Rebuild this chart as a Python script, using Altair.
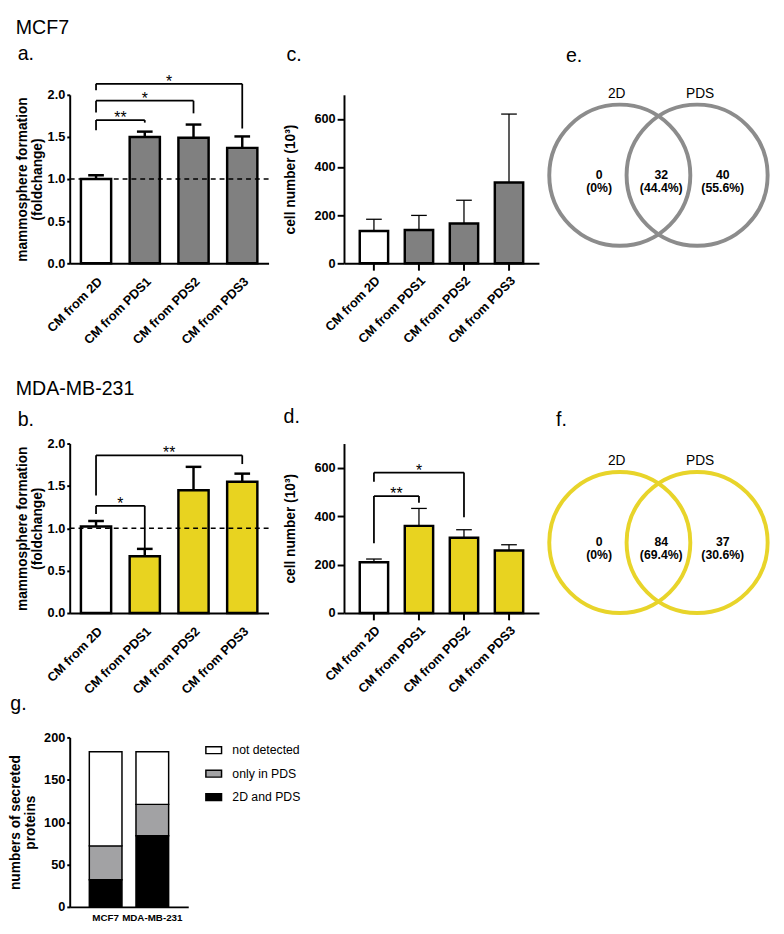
import altair as alt
import pandas as pd

FONT = "Liberation Sans"

categories = ["CM from 2D", "CM from PDS1", "CM from PDS2", "CM from PDS3"]

# panel a (MCF7 mammosphere formation)
mcf7_mammo = [1.00, 1.50, 1.49, 1.37]
mcf7_mammo_err = [0.046, 0.063, 0.157, 0.136]
# panel c (MCF7 cell number)
mcf7_cells = [134, 138, 165, 336]
mcf7_cells_err = [49, 61, 97, 284]
# panel b (MDA-MB-231 mammosphere formation)
mda_mammo = [1.02, 0.67, 1.45, 1.55]
mda_mammo_err = [0.066, 0.087, 0.275, 0.095]
# panel d (MDA-MB-231 cell number)
mda_cells = [210, 360, 311, 258]
mda_cells_err = [13, 72, 33, 24]

# significance brackets: (from, to, bracket level, left leg end, right leg end, label)
a_brackets = [
    ("CM from 2D", "CM from PDS1", 1.70, 1.58, 1.67, "**"),
    ("CM from 2D", "CM from PDS2", 1.93, 1.79, 1.78, "*"),
    ("CM from 2D", "CM from PDS3", 2.13, 2.055, 1.60, "*"),
]
b_brackets = [
    ("CM from 2D", "CM from PDS1", 1.265, 1.17, 0.726, "*"),
    ("CM from 2D", "CM from PDS3", 1.861, 1.388, 1.758, "**"),
]
c_brackets = []
d_brackets = [
    ("CM from 2D", "CM from PDS1", 483, 288, 455, "**"),
    ("CM from 2D", "CM from PDS2", 580, 542, 396, "*"),
]

# Venn diagrams
venn_sets = ["2D", "PDS"]
mcf7_venn_counts = ["0", "32", "40"]
mcf7_venn_pct = ["(0%)", "(44.4%)", "(55.6%)"]
mda_venn_counts = ["0", "84", "37"]
mda_venn_pct = ["(0%)", "(69.4%)", "(30.6%)"]
venn_centers = [-0.547, 0.547]
venn_head_x = [-0.59, 0.59]
venn_head_y = 1.15
venn_text_x = [-0.84, 0.04, 0.91]

# panel g
cell_lines = ["MCF7", "MDA-MB-231"]
groups = ["not detected", "only in PDS", "2D and PDS"]
both_counts = [32, 84]
pds_only_counts = [40, 37]
not_detected_counts = [111, 62]

WHITE = "#ffffff"
GRAY_BAR = "#808080"
YELLOW = "#e8d320"
VENN_GRAY = "#8c8c8c"
VENN_YELLOW = "#e8d42a"
G_GRAY = "#a2a2a4"

PX = 72  # pixels per Venn radius
H_TOP = 172
H_MID = 173
PI_A, PO_A = 0.38, 0.23
PI_C, PO_C = 0.37, 0.35


def letter_title(txt, offset, dx=0):
    return alt.Title(txt, anchor="start", frame="bounds", fontSize=20, fontWeight="normal",
                     font=FONT, color="black", offset=offset, dx=dx)


def bar_panel(values, errs, pds_color, ydomain, yvalues, yformat, ytitle, brackets,
              letter, title_offset, title_dx, width, height, pi, po, ytick, xticks, err_w,
              title_padding, label_pad, dashed):
    fills = [WHITE] + [pds_color] * 3
    df = pd.DataFrame({"cat": categories, "val": values,
                       "up": [v + e for v, e in zip(values, errs)], "fill": fills})
    xscale = alt.Scale(domain=categories, paddingInner=pi, paddingOuter=po)
    yscale = alt.Scale(domain=ydomain, nice=False)
    xaxis = alt.Axis(title=None, labelAngle=-45, ticks=xticks, tickSize=7,
                     labelPadding=label_pad)
    yaxis = alt.Axis(title=ytitle, values=yvalues, format=yformat, tickSize=ytick,
                     labelPadding=2, titlePadding=title_padding, titleLineHeight=15)
    xenc = alt.X("cat:N", scale=xscale, axis=xaxis)

    bars = alt.Chart(df).mark_bar(stroke="black", strokeWidth=2.5).encode(
        x=xenc, y=alt.Y("val:Q", scale=yscale, axis=yaxis),
        fill=alt.Fill("fill:N", scale=None))
    err = alt.Chart(df).mark_rule(color="black", strokeWidth=err_w).encode(
        x=alt.X("cat:N", scale=xscale, axis=xaxis, bandPosition=0.5),
        y=alt.Y("val:Q", scale=yscale, axis=yaxis), y2="up:Q")
    cap = alt.Chart(df).mark_tick(color="black", thickness=err_w, size=16, opacity=1).encode(
        x=xenc, y=alt.Y("up:Q", scale=yscale, axis=yaxis))
    layers = [err, cap, bars]

    if dashed:
        ref = alt.Chart(pd.DataFrame({"ref": [1.0]})).mark_rule(
            color="black", strokeDash=[5, 4], strokeWidth=1.6).encode(
            y=alt.Y("ref:Q", scale=yscale, axis=yaxis))
        layers.append(ref)

    if brackets:
        # index scale matching the band scale geometry: band i centre sits at index i
        half = po + (1 - pi) / 2
        n = len(categories)
        iscale = alt.Scale(domain=[-half, n - 1 + half], nice=False, zero=False)
        segs = []
        for c1, c2, h, l1, l2, lab in brackets:
            i1, i2 = categories.index(c1), categories.index(c2)
            segs.append({"x1": i1, "x2": i2, "y1": h, "y2": h})
            segs.append({"x1": i1, "x2": i1, "y1": l1, "y2": h})
            segs.append({"x1": i2, "x2": i2, "y1": l2, "y2": h})
        sdf = pd.DataFrame(segs)
        br = alt.Chart(sdf).mark_rule(color="black", strokeWidth=1.8).encode(
            x=alt.X("x1:Q", scale=iscale, axis=None), x2="x2:Q",
            y=alt.Y("y1:Q", scale=yscale, axis=yaxis), y2="y2:Q")
        tdf = pd.DataFrame({
            "xm": [(categories.index(b[0]) + categories.index(b[1])) / 2 for b in brackets],
            "h": [b[2] for b in brackets], "lab": [b[5] for b in brackets]})
        txt = alt.Chart(tdf).mark_text(fontSize=16, font=FONT, baseline="alphabetic",
                                       dy=3, color="black").encode(
            x=alt.X("xm:Q", scale=iscale, axis=None),
            y=alt.Y("h:Q", scale=yscale, axis=yaxis), text="lab:N")
        top = alt.layer(br, txt)
        return alt.layer(alt.layer(*layers), top).resolve_scale(x="independent").properties(
            width=width, height=height, title=letter_title(letter, title_offset, title_dx))

    return alt.layer(*layers).properties(
        width=width, height=height, title=letter_title(letter, title_offset, title_dx))


def venn_panel(color, counts, pcts, ydomain, height, letter, title_offset, title_dx):
    xs = alt.Scale(domain=[-1.58, 1.58], nice=False, zero=False)
    ys = alt.Scale(domain=ydomain, nice=False, zero=False)
    width = round((1.58 * 2) * PX)
    circ = pd.DataFrame({"cx": venn_centers, "cy": [0, 0]})
    circles = alt.Chart(circ).mark_point(
        shape="circle", filled=False, size=(2 * PX) ** 2, strokeWidth=4,
        color=color, opacity=1).encode(
        x=alt.X("cx:Q", scale=xs, axis=None), y=alt.Y("cy:Q", scale=ys, axis=None))
    heads = pd.DataFrame({"x": venn_head_x, "y": [venn_head_y] * 2, "t": venn_sets})
    head_txt = alt.Chart(heads).mark_text(fontSize=14, font=FONT, color="black",
                                          baseline="middle").encode(
        x=alt.X("x:Q", scale=xs, axis=None), y=alt.Y("y:Q", scale=ys, axis=None), text="t:N")
    nums = pd.DataFrame({"x": venn_text_x, "y": [0, 0, 0],
                         "t": [c + "\n" + p for c, p in zip(counts, pcts)]})
    num_txt = alt.Chart(nums).mark_text(fontSize=12.5, font=FONT, fontWeight="bold",
                                        color="black", baseline="middle", lineBreak="\n",
                                        lineHeight=13).encode(
        x=alt.X("x:Q", scale=xs, axis=None), y=alt.Y("y:Q", scale=ys, axis=None), text="t:N")
    return alt.layer(circles, head_txt, num_txt).properties(
        width=width, height=height, title=letter_title(letter, title_offset, title_dx))


a = bar_panel(mcf7_mammo, mcf7_mammo_err, GRAY_BAR, [0, 2], [0, 0.5, 1, 1.5, 2], ".1f",
              ["mammosphere formation", "(foldchange)"], a_brackets, "a.", 10, 2,
              203, H_TOP, PI_A, PO_A, 3, False, 2.5, 3, 12, True)
c = bar_panel(mcf7_cells, mcf7_cells_err, GRAY_BAR, [0, 700], [0, 200, 400, 600], "d",
              "cell number (10³)", c_brackets, "c.", 31, 3,
              199, H_TOP, PI_C, PO_C, 7, True, 1.3, 17, 4, False)
e = venn_panel(VENN_GRAY, mcf7_venn_counts, mcf7_venn_pct, [-1.25, 1.14], H_TOP, "e.", 22, 25)

b = bar_panel(mda_mammo, mda_mammo_err, YELLOW, [0, 2], [0, 0.5, 1, 1.5, 2], ".1f",
              ["mammosphere formation", "(foldchange)"], b_brackets, "b.", 8, 2,
              203, H_MID, PI_A, PO_A, 3, False, 2.5, 3, 12, True)
d = bar_panel(mda_cells, mda_cells_err, YELLOW, [0, 700], [0, 200, 400, 600], "d",
              "cell number (10³)", d_brackets, "d.", 17, 0,
              199, H_MID, PI_C, PO_C, 7, True, 1.3, 17, 4, False)
f = venn_panel(VENN_YELLOW, mda_venn_counts, mda_venn_pct, [-1.0, 1.403], H_MID, "f.", 14, 15)

# panel g
gdf = pd.DataFrame({
    "line": cell_lines * 3,
    "group": [groups[2]] * 2 + [groups[1]] * 2 + [groups[0]] * 2,
    "count": both_counts + pds_only_counts + not_detected_counts,
    "ord": [0, 0, 1, 1, 2, 2],
})
g = alt.Chart(gdf).mark_bar(stroke="black", strokeWidth=1.5).encode(
    x=alt.X("line:N", scale=alt.Scale(domain=cell_lines, paddingInner=0.3, paddingOuter=0.42),
            axis=alt.Axis(title=None, labelAngle=0, ticks=False, labelFontSize=10,
                          labelPadding=6)),
    y=alt.Y("count:Q", stack="zero", scale=alt.Scale(domain=[0, 200], nice=False),
            axis=alt.Axis(values=[0, 50, 100, 150, 200], title=["numbers of secreted", "proteins"],
                          tickSize=3, labelPadding=2, titlePadding=6, titleLineHeight=16)),
    fill=alt.Fill("group:N", scale=alt.Scale(domain=groups, range=[WHITE, G_GRAY, "black"]),
                  legend=alt.Legend(title=None, orient="right", offset=13, padding=4,
                                    symbolType="M-1,-0.44L1,-0.44L1,0.44L-1,0.44Z",
                                    symbolSize=256, symbolStrokeColor="black",
                                    symbolStrokeWidth=1.5, labelFontSize=12.5, labelFont=FONT,
                                    labelFontWeight="normal", labelOffset=10, rowPadding=8,
                                    labelColor="black")),
    order=alt.Order("ord:Q"),
).properties(width=121, height=173, title=letter_title("g.", 18, 2))

row_title = dict(anchor="start", frame="bounds", fontSize=20, fontWeight="normal",
                 font=FONT, color="black")

row1 = alt.hconcat(alt.hconcat(a, c, spacing=14), e, spacing=2,
                   title=alt.Title("MCF7", offset=7, **row_title))
row2 = alt.hconcat(alt.hconcat(b, d, spacing=14), f, spacing=2,
                   title=alt.Title("MDA-MB-231", offset=9, **row_title))

chart = alt.vconcat(alt.vconcat(row1, row2, spacing=32), g, spacing=-3).resolve_scale(
    fill="independent"
).resolve_legend(fill="independent").properties(
    padding={"left": 0, "top": 0, "right": 0, "bottom": 0}
).configure_view(stroke=None).configure_axis(
    domainColor="black", domainWidth=2, tickColor="black", tickWidth=2,
    labelColor="black", labelFont=FONT, labelFontWeight="bold", labelFontSize=13,
    titleFont=FONT, titleFontWeight="bold", titleFontSize=14, titleColor="black", grid=False
).configure_title(font=FONT, color="black")

chart.save("out.html", embed_options={"renderer": "svg", "actions": False})
